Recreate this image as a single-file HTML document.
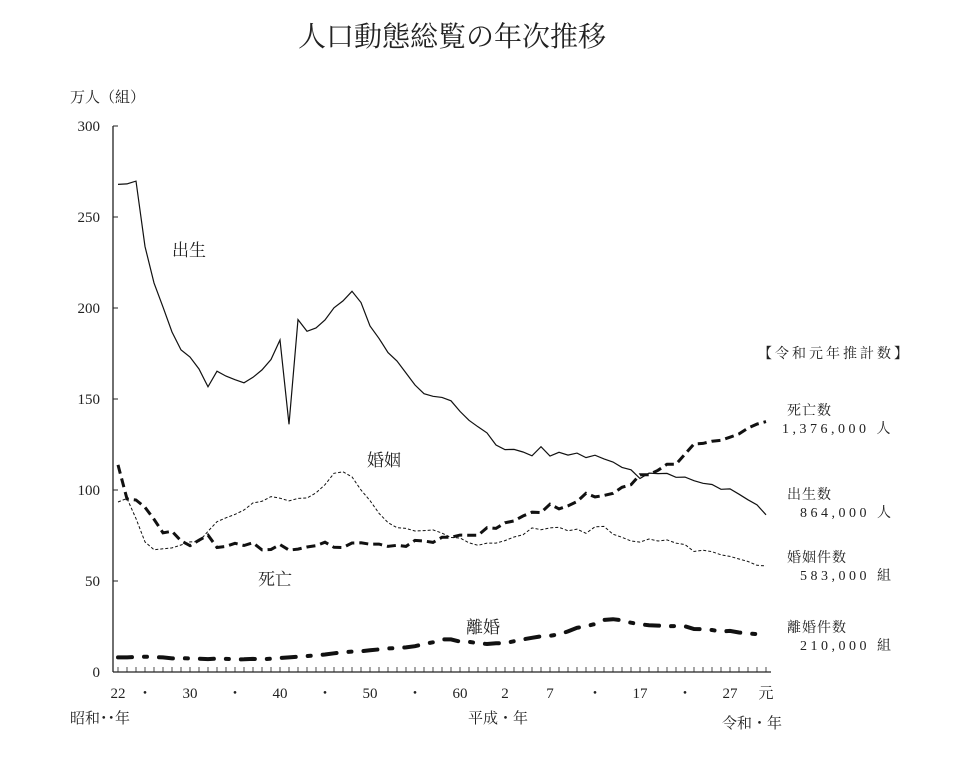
<!DOCTYPE html>
<html><head><meta charset="utf-8"><style>
body{margin:0;background:#fff;}
svg text{font-family:"Liberation Serif","Noto Serif CJK SC","Noto Sans CJK JP",serif;fill:#222;}
</style></head><body>
<svg id="c" width="963" height="754" xmlns="http://www.w3.org/2000/svg">
<text x="452" y="46" font-size="28" text-anchor="middle">人口動態総覧の年次推移</text>
<text x="70" y="102" font-size="15">万人（組）</text>
<g id="axes"></g>
<g id="series"></g>
<text x="172" y="256" font-size="17">出生</text>
<text x="367" y="466" font-size="17">婚姻</text>
<text x="258" y="585" font-size="17">死亡</text>
<text x="466" y="633" font-size="17">離婚</text>
<text x="70" y="723" font-size="15">昭和･･年</text>
<text x="468" y="723" font-size="15">平成・年</text>
<text x="722" y="728" font-size="15">令和・年</text>
<g font-size="14">
<text x="758" y="358" letter-spacing="3">【令和元年推計数】</text>
<text x="787" y="415" letter-spacing="1">死亡数</text>
<text x="782" y="433" letter-spacing="3.5">1,376,000 人</text>
<text x="787" y="499" letter-spacing="1">出生数</text>
<text x="800" y="517" letter-spacing="3.5">864,000 人</text>
<text x="787" y="562" letter-spacing="1">婚姻件数</text>
<text x="800" y="580" letter-spacing="3.5">583,000 組</text>
<text x="787" y="632" letter-spacing="1">離婚件数</text>
<text x="800" y="650" letter-spacing="3.5">210,000 組</text>
</g>
</svg>
<script>
const startYear = 1947;
const births = [267.9,268.2,269.7,233.8,213.8,200.5,186.8,177.0,173.1,166.5,156.7,165.3,162.6,160.6,158.9,161.9,166.0,171.7,182.4,136.1,193.6,187.2,189.0,193.4,200.1,203.9,209.2,203.0,190.1,183.3,175.5,170.9,164.3,157.7,152.9,151.5,150.9,149.0,143.2,138.3,134.7,131.4,124.7,122.2,122.3,120.9,118.8,123.8,118.7,120.7,119.2,120.3,117.8,119.1,117.1,115.4,112.4,111.1,106.3,109.3,109.0,109.1,107.0,107.1,105.1,103.7,103.0,100.4,100.6,97.7,94.6,91.8,86.4];
const deaths = [113.8,95.1,94.5,90.5,83.9,76.5,77.3,72.1,69.4,72.4,75.2,68.4,69.0,70.7,69.5,71.0,67.1,67.3,70.0,67.0,67.5,68.7,69.4,71.3,68.5,68.4,70.9,71.0,70.2,70.3,69.0,69.6,69.0,72.3,72.0,71.2,74.0,74.0,75.2,75.1,75.1,79.3,78.9,82.0,83.0,85.7,87.8,87.6,92.2,89.6,91.3,93.6,98.2,96.2,97.0,98.2,101.5,102.9,108.4,108.4,110.8,114.2,114.2,119.7,125.3,125.6,126.8,127.3,129.0,130.8,134.0,136.2,137.6];
const marriages = [93.4,95.4,84.3,71.5,67.2,67.7,68.2,69.8,71.5,71.6,77.3,82.6,84.7,86.6,89.0,92.9,93.8,96.4,95.5,94.0,95.4,95.6,98.4,102.9,109.2,110.0,107.2,100.0,94.2,87.2,82.1,79.3,78.9,77.5,77.7,78.1,76.3,73.9,73.6,71.0,69.6,70.8,70.8,72.2,74.2,75.4,79.2,78.2,79.2,79.5,77.6,78.5,76.2,79.8,80.0,75.7,74.0,72.0,71.4,73.1,72.0,72.6,70.8,70.0,66.2,66.9,66.1,64.4,63.5,62.1,60.7,58.6,58.3];
const divorces = [8.0,8.0,8.3,8.4,8.2,8.0,7.5,7.6,7.5,7.3,7.1,7.4,7.2,6.9,7.0,7.2,7.0,7.3,7.7,8.0,8.4,8.8,9.1,9.6,10.3,10.9,11.2,11.4,11.9,12.4,12.9,13.2,13.5,14.2,15.4,16.3,17.9,17.9,16.7,16.6,15.8,15.4,15.8,15.8,16.9,17.9,18.8,19.6,19.9,20.7,22.3,24.3,25.1,26.4,28.6,29.0,28.4,27.1,26.2,25.7,25.5,25.1,25.3,25.1,23.6,23.5,23.1,22.2,22.6,21.7,21.2,20.8,21.0];
const yTicks = [0,50,100,150,200,250,300];
const xTickYears = [1947,1950,1955,1960,1965,1970,1975,1980,1985,1990,1995,2000,2005,2010,2015,2019];
const xTickLabels = ["22","・","30","・","40","・","50","・","60","2","7","・","17","・","27","元"];

const NS="http://www.w3.org/2000/svg";
const X0=118, XS=9.0, Y0=672, YS=546/300;
const xs=y=>X0+(y-1947)*XS, ys=v=>Y0-v*YS;
function mk(t,a,p){const e=document.createElementNS(NS,t);for(const k in a)e.setAttribute(k,a[k]);p.appendChild(e);return e;}
const ax=document.getElementById('axes'), sr=document.getElementById('series');
const ya=mk('line',{x1:113,y1:126,x2:113,y2:672,stroke:'#222','stroke-width':1.3},ax);


const xa=mk('line',{x1:113,y1:672,x2:771,y2:672,stroke:'#222','stroke-width':1.3},ax);


yTicks.forEach(v=>{
  mk('line',{x1:113,y1:ys(v),x2:118,y2:ys(v),stroke:'#222'},ax);
  const t=mk('text',{x:100,y:ys(v)+5,'font-size':15,'text-anchor':'end'},ax);t.textContent=v;
  
  
});
for(let y=1947;y<=2019;y++){mk('line',{x1:xs(y),y1:672,x2:xs(y),y2:667,stroke:'#222','stroke-width':0.8},ax);}
xTickYears.forEach((y,i)=>{
  const t=mk('text',{x:xs(y),y:698,'font-size':15,'text-anchor':'middle'},ax);t.textContent=xTickLabels[i];
  
  
});
function line(arr,style,name){
  const d=arr.map((v,i)=>(i?'L':'M')+xs(startYear+i).toFixed(1)+','+ys(v).toFixed(1)).join('');
  const p=mk('path',Object.assign({d:d,fill:'none',stroke:'#111'},style),sr);
  
  
}
line(births,{'stroke-width':1.2},'births-line');
line(marriages,{'stroke-width':1,'stroke-dasharray':'3 2'},'marriages-line');
line(deaths,{'stroke-width':3,'stroke-dasharray':'9 5'},'deaths-line');
line(divorces,{'stroke-width':4,'stroke-dasharray':'14 12 3 12','stroke-linecap':'round'},'divorces-line');
</script>
</body></html>
